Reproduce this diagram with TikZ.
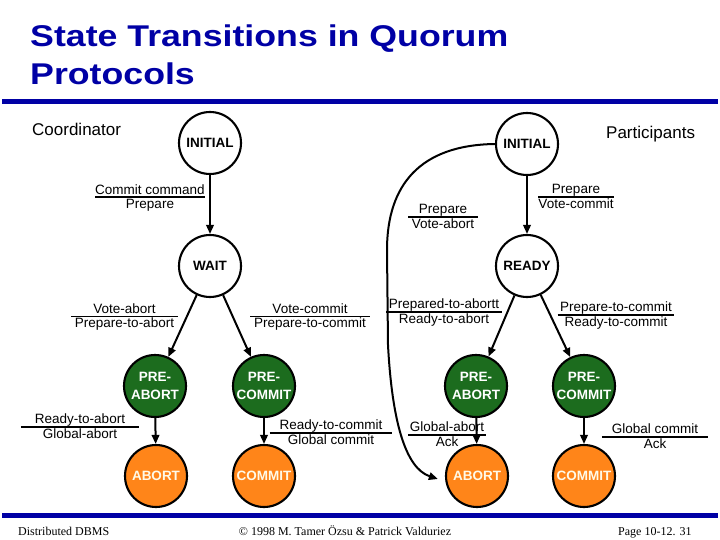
\documentclass[tikz,border=0pt]{standalone}
\usepackage{fontspec}
\setmainfont{Liberation Sans}
\newfontfamily\titlefont[FakeStretch=1.19]{Liberation Sans}
\newfontfamily\footfont{Liberation Serif}
\usetikzlibrary{arrows.meta}
\definecolor{slideblue}{RGB}{0,0,165}
\definecolor{stgreen}{RGB}{28,108,30}
\definecolor{storange}{RGB}{255,133,25}
\definecolor{sttext}{RGB}{255,250,232}
% event / action label with a rule between
\newcommand{\trans}[3][0pt]{{\setlength{\arrayrulewidth}{1.9pt}\renewcommand{\arraystretch}{0.1}%
  \begin{tabular}{@{\hspace{#1}}c@{\hspace{#1}}}\rule[-2pt]{0pt}{12pt}#2\\\hline\rule[-2pt]{0pt}{12.3pt}#3\end{tabular}}}

\begin{document}
\begin{tikzpicture}[x=1pt,y=-1pt,
  state/.style={circle,draw,line width=2.1pt,minimum size=62pt,inner sep=0pt,align=center,
    font=\bfseries\fontsize{13.5}{18}\selectfont},
  prestate/.style={state,fill=stgreen,text=white},
  endstate/.style={state,fill=storange,text=sttext},
  lbl/.style={inner sep=0pt,font=\fontsize{13.5}{16}\selectfont},
  trans/.style={line width=2pt,-{Triangle[length=9pt,width=7.5pt]}}]
  \useasboundingbox (0,0) rectangle (720,540);
  % title and bars
  \node[anchor=base west,inner sep=0pt,text=slideblue,font=\titlefont\bfseries\fontsize{30}{38}\selectfont] (title1) at (30,47) {State Transitions in Quorum};
  \node[anchor=base west,inner sep=0pt,text=slideblue,font=\titlefont\bfseries\fontsize{30}{38}\selectfont] (title2) at (30,85) {Protocols};
  \fill[slideblue] (2,99) rectangle (718,104);
  \fill[slideblue] (2,513) rectangle (718,518);
  \node[anchor=base west,inner sep=0pt,font=\fontsize{17}{20}\selectfont] (coord) at (32,136) {Coordinator};
  \node[anchor=base west,inner sep=0pt,font=\fontsize{17}{20}\selectfont] (part) at (606,139) {Participants};
  % coordinator
  \node[state] (cinit) at (210,143) {INITIAL};
  \node[state] (cwait) at (210,266) {WAIT};
  \node[prestate] (cpreab) at (155,386) {PRE-\\ABORT};
  \node[prestate] (cprecm) at (264,386) {PRE-\\COMMIT};
  \node[endstate] (cabort) at (156,476) {ABORT};
  \node[endstate] (ccommit) at (264,476) {COMMIT};
  \draw[trans] (cinit) -- (cwait);
  \draw[trans] (cwait) -- (cpreab);
  \draw[trans] (cwait) -- (cprecm);
  \draw[trans] (cpreab) -- (cabort);
  \draw[trans] (cprecm) -- (ccommit);
  \node[lbl] (lcmd) at (150,198) {\trans{Commit command}{Prepare}};
  \node[lbl] (lvab) at (124.5,317) {\trans[3.5pt]{Vote-abort}{Prepare-to-abort}};
  \node[lbl] (lvcm) at (310,317) {\trans[4pt]{Vote-commit}{Prepare-to-commit}};
  \node[lbl] (lrab) at (80,427) {\trans[14pt]{Ready-to-abort}{Global-abort}};
  \node[lbl] (lrcm) at (331,433) {\trans[10pt]{Ready-to-commit}{Global commit}};
  % participants
  \node[state] (pinit) at (527,144) {INITIAL};
  \node[state] (pready) at (527,266) {READY};
  \node[prestate] (ppreab) at (476,386) {PRE-\\ABORT};
  \node[prestate] (pprecm) at (584,386) {PRE-\\COMMIT};
  \node[endstate] (pabort) at (477,476) {ABORT};
  \node[endstate] (pcommit) at (584,476) {COMMIT};
  \draw[trans] (pinit) -- (pready);
  \draw[trans] (pready) -- (ppreab);
  \draw[trans] (pready) -- (pprecm);
  \draw[trans] (ppreab) -- (pabort);
  \draw[trans] (pprecm) -- (pcommit);
  \draw[trans,shorten >=8pt] (pinit.west) .. controls (420,145) and (387,185) .. (387,250)
    -- (388,345) .. controls (392,420) and (405,468) .. (pabort.190);
  \node[lbl] (lpvc) at (576,197) {\trans{Prepare}{Vote-commit}};
  \node[lbl] (lpva) at (443,217) {\trans[3.5pt]{Prepare}{Vote-abort}};
  \node[lbl] (lpra) at (444,312) {\trans[2.5pt]{Prepared-to-abortt}{Ready-to-abort}};
  \node[lbl] (lprc) at (616,315) {\trans[2.5pt]{Prepare-to-commit}{Ready-to-commit}};
  \node[lbl] (lgab) at (447,435) {\trans[1.5pt]{Global-abort}{Ack}};
  \node[lbl] (lgcm) at (655,437) {\trans[10pt]{Global commit}{Ack}};
  % footer
  \node[anchor=base west,inner sep=0pt,font=\footfont\fontsize{12}{14}\selectfont] (fleft) at (18,535) {Distributed DBMS};
  \node[anchor=base,inner sep=0pt,font=\footfont\fontsize{12}{14}\selectfont] (fmid) at (345,535) {© 1998 M. Tamer Özsu \& Patrick Valduriez};
  \node[anchor=base west,inner sep=0pt,font=\footfont\fontsize{12}{14}\selectfont] (fright) at (618,535) {Page 10-12. 31};
\end{tikzpicture}
\end{document}
